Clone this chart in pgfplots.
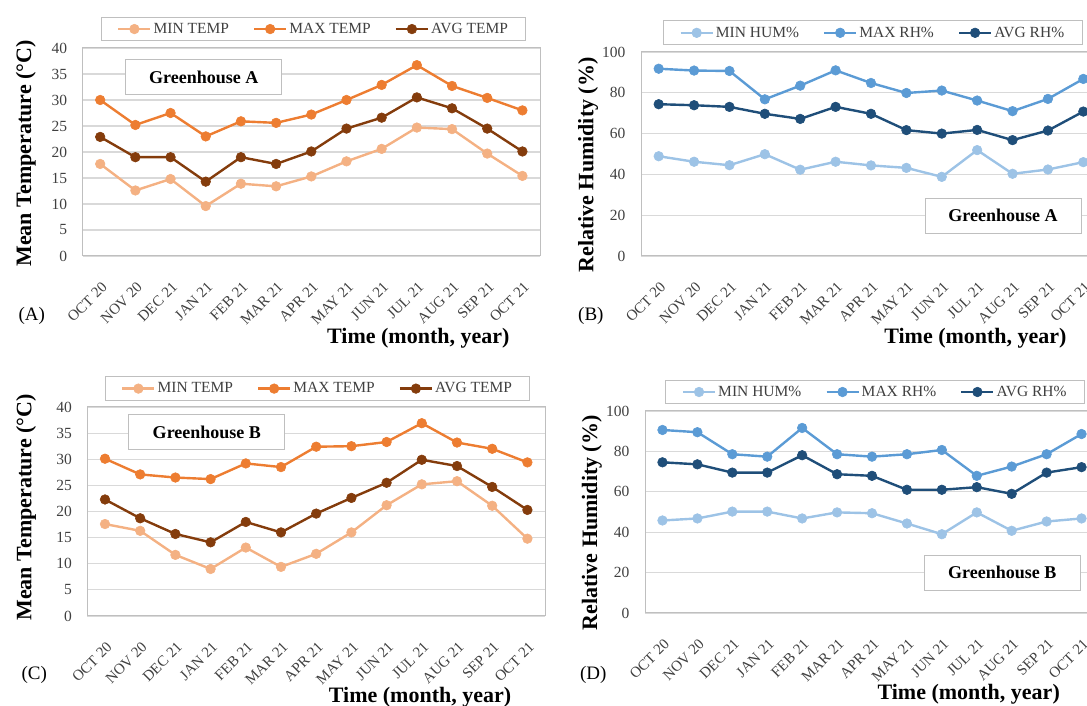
\documentclass[border=0pt]{standalone}
\usepackage{fontspec}
\setmainfont{Liberation Serif}
\usepackage{pgfplots}
\usepackage{pgfplotstable}
\pgfplotsset{compat=1.18}
\definecolor{tmin}{HTML}{F4B183}
\definecolor{tmax}{HTML}{ED7D31}
\definecolor{tavg}{HTML}{843C0C}
\definecolor{hmin}{HTML}{9DC3E6}
\definecolor{hmax}{HTML}{5B9BD5}
\definecolor{havg}{HTML}{1F4E79}
\definecolor{gridc}{HTML}{D9D9D9}
\definecolor{framec}{HTML}{BFBFBF}
\definecolor{txt}{HTML}{404040}

% x: 0=OCT20 ... 12=OCT21
\pgfplotstableread{
x  mn   mx   av
0  17.7 30.0 22.9
1  12.6 25.2 19.0
2  14.8 27.5 19.0
3  9.6  23.0 14.3
4  13.9 25.9 19.0
5  13.4 25.6 17.7
6  15.3 27.2 20.1
7  18.2 30.0 24.5
8  20.6 32.9 26.6
9  24.7 36.7 30.5
10 24.4 32.7 28.4
11 19.7 30.4 24.5
12 15.4 28.0 20.1
}\tabA
\pgfplotstableread{
x  mn   mx   av
0  48.9 91.8 74.4
1  46.2 90.9 73.9
2  44.5 90.7 73.1
3  49.9 76.8 69.7
4  42.3 83.5 67.2
5  46.2 91.0 73.1
6  44.4 84.8 69.7
7  43.2 79.9 61.7
8  38.8 81.1 60.0
9  51.9 76.2 61.8
10 40.3 71.0 56.8
11 42.4 77.0 61.5
12 46.0 86.8 70.8
}\tabB
\pgfplotstableread{
x  mn   mx   av
0  17.6 30.1 22.3
1  16.3 27.1 18.7
2  11.7 26.5 15.7
3  9.0  26.2 14.1
4  13.1 29.2 18.0
5  9.4  28.5 16.0
6  11.9 32.4 19.6
7  16.0 32.5 22.6
8  21.2 33.3 25.5
9  25.2 36.9 29.9
10 25.8 33.2 28.7
11 21.1 32.0 24.7
12 14.8 29.4 20.3
}\tabC
\pgfplotstableread{
x  mn   mx   av
0  45.8 90.6 74.6
1  46.8 89.5 73.6
2  50.2 78.6 69.5
3  50.2 77.4 69.5
4  46.8 91.6 78.1
5  49.8 78.6 68.7
6  49.4 77.4 67.9
7  44.3 78.6 61.0
8  39.0 80.7 61.0
9  49.8 67.9 62.3
10 40.7 72.5 59.0
11 45.3 78.6 69.5
12 46.8 88.6 72.2
}\tabD

\pgfplotsset{
 panel/.style={
  scale only axis, clip=false,
  xmin=-0.5, xmax=12.5,
  xtick={0,...,12},
  xticklabels={OCT 20,NOV 20,DEC 21,JAN 21,FEB 21,MAR 21,APR 21,MAY 21,JUN 21,JUL 21,AUG 21,SEP 21,OCT 21},
  major tick length=0pt,
  /pgf/number format/assume math mode=true,
  axis line style={draw=framec, line width=1pt},
  ymajorgrids, grid style={draw=gridc, line width=1.2pt},
  yticklabel style={font=\fontsize{15.5}{16}\selectfont, text=txt, xshift=-12pt},
  xticklabel style={font=\fontsize{15}{16}\selectfont, text=txt, yshift=-28pt, xshift=5pt, rotate=45, anchor=east, inner sep=1pt},
  every axis plot/.append style={line width=2.4pt, mark=*, mark size=4.8pt, mark options={solid, line width=0.6pt}},
  legend columns=3,
  legend style={draw=framec, line width=1pt, font=\fontsize{15.5}{16}\selectfont, text=txt, anchor=center,
     /tikz/every even column/.append style={column sep=22pt}, inner xsep=16pt, inner ysep=4pt},
  legend image code/.code={\draw[mark repeat=2,mark phase=2] plot coordinates {(0pt,0pt) (16pt,0pt) (32pt,0pt)};},
  label style={font=\bfseries\fontsize{22}{24}\selectfont, text=black},
  xlabel={Time (month, year)},
 },
}
\tikzset{
 gbox/.style={draw=framec, line width=1pt, fill=white, font=\bfseries\fontsize{18}{20}\selectfont, minimum width=156pt, minimum height=35pt, inner sep=0pt},
 plab/.style={font=\fontsize{19}{20}\selectfont, anchor=center},
}

\begin{document}
\begin{tikzpicture}
\path[use as bounding box] (0pt,0pt) rectangle (1087pt,706pt);
\clip (0pt,0pt) rectangle (1087pt,706pt);

% ---------- (A)
\begin{axis}[panel, at={(82.6pt,450pt)}, anchor=south west,
  width=457.4pt, height=208pt, ymin=0, ymax=40, ytick={0,5,...,40},
  ylabel={Mean Temperature (°C)},
  ylabel style={at={(axis description cs:-0.124,0.493)}, anchor=center},
  xlabel style={at={(axis description cs:0.734,-0.394)}, anchor=center},
  legend style={at={(0.505,1.091)}},
]
\addplot[color=tmin] table[x=x,y=mn]{\tabA};
\addlegendentry{MIN TEMP}
\addplot[color=tmax] table[x=x,y=mx]{\tabA};
\addlegendentry{MAX TEMP}
\addplot[color=tavg] table[x=x,y=av]{\tabA};
\addlegendentry{AVG TEMP}
\node[gbox] at (axis description cs:0.265,0.861) {Greenhouse A};
\node[plab] at (axis description cs:-0.111,-0.288) {(A)};
\end{axis}

% ---------- (B)
\begin{axis}[panel, at={(641pt,450pt)}, anchor=south west,
  width=460pt, height=204pt, ymin=0, ymax=100, ytick={0,20,...,100},
  ylabel={Relative Humidity (\%)},
  ylabel style={at={(axis description cs:-0.115,0.446)}, anchor=center},
  xlabel style={at={(axis description cs:0.727,-0.402)}, anchor=center},
  legend style={at={(0.504,1.094)}},
]
\addplot[color=hmin] table[x=x,y=mn]{\tabB};
\addlegendentry{MIN HUM\%}
\addplot[color=hmax] table[x=x,y=mx]{\tabB};
\addlegendentry{MAX RH\%}
\addplot[color=havg] table[x=x,y=av]{\tabB};
\addlegendentry{AVG RH\%}
\node[gbox] at (axis description cs:0.787,0.198) {Greenhouse A};
\node[plab] at (axis description cs:-0.109,-0.294) {(B)};
\end{axis}

% ---------- (C)
\begin{axis}[panel, at={(87.4pt,90pt)}, anchor=south west,
  width=457.6pt, height=209pt, ymin=0, ymax=40, ytick={0,5,...,40},
  ylabel={Mean Temperature (°C)},
  ylabel style={at={(axis description cs:-0.134,0.519)}, anchor=center},
  xlabel style={at={(axis description cs:0.727,-0.39)}, anchor=center},
  legend style={at={(0.503,1.088)}},
]
\addplot[color=tmin] table[x=x,y=mn]{\tabC};
\addlegendentry{MIN TEMP}
\addplot[color=tmax] table[x=x,y=mx]{\tabC};
\addlegendentry{MAX TEMP}
\addplot[color=tavg] table[x=x,y=av]{\tabC};
\addlegendentry{AVG TEMP}
\node[gbox] at (axis description cs:0.261,0.880) {Greenhouse B};
\node[plab] at (axis description cs:-0.116,-0.282) {(C)};
\end{axis}

% ---------- (D)
\begin{axis}[panel, at={(645pt,93pt)}, anchor=south west,
  width=454pt, height=202pt, ymin=0, ymax=100, ytick={0,20,...,100},
  ylabel={Relative Humidity (\%)},
  ylabel style={at={(axis description cs:-0.117,0.446)}, anchor=center},
  xlabel style={at={(axis description cs:0.713,-0.40)}, anchor=center},
  legend style={at={(0.507,1.094)}},
]
\addplot[color=hmin] table[x=x,y=mn]{\tabD};
\addlegendentry{MIN HUM\%}
\addplot[color=hmax] table[x=x,y=mx]{\tabD};
\addlegendentry{MAX RH\%}
\addplot[color=havg] table[x=x,y=av]{\tabD};
\addlegendentry{AVG RH\%}
\node[gbox] at (axis description cs:0.787,0.200) {Greenhouse B};
\node[plab] at (axis description cs:-0.114,-0.307) {(D)};
\end{axis}
\end{tikzpicture}
\end{document}
